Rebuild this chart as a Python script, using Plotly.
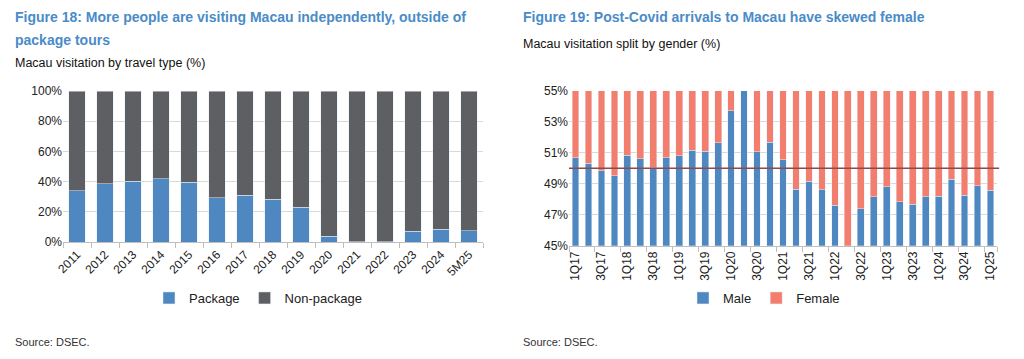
import plotly.graph_objects as go

# ---------------- Data ----------------
years = ["2011", "2012", "2013", "2014", "2015", "2016", "2017", "2018",
         "2019", "2020", "2021", "2022", "2023", "2024", "5M25"]
package = [33.8, 38.7, 40.2, 42.0, 39.6, 29.3, 31.1, 28.2, 22.9, 3.8,
           0.3, 0.2, 7.1, 8.4, 7.6]
non_package = [round(100 - p, 1) for p in package]

quarters = ["1Q17", "2Q17", "3Q17", "4Q17", "1Q18", "2Q18", "3Q18", "4Q18",
            "1Q19", "2Q19", "3Q19", "4Q19", "1Q20", "2Q20", "3Q20", "4Q20",
            "1Q21", "2Q21", "3Q21", "4Q21", "1Q22", "2Q22", "3Q22", "4Q22",
            "1Q23", "2Q23", "3Q23", "4Q23", "1Q24", "2Q24", "3Q24", "4Q24",
            "1Q25"]
male = [50.67, 50.34, 49.83, 49.53, 50.86, 50.62, 50.04, 50.69,
        50.82, 51.16, 51.12, 51.66, 53.73, 56.0, 51.08, 51.68,
        50.56, 48.66, 49.18, 48.62, 47.63, 44.8, 47.39, 48.15,
        48.81, 47.84, 47.67, 48.15, 48.21, 49.31, 48.25, 48.86,
        48.58]
female = [round(100 - m, 2) for m in male]
quarter_ticks = quarters[::2]

left_ticks = [0, 20, 40, 60, 80, 100]
right_ticks = [45, 47, 49, 51, 53, 55]

# ---------------- Style ----------------
W, H = 1024, 359
BLUE = "#4F88C0"
GREY = "#5E5F63"
SALMON = "#F47E6D"
TITLE = "#4A8BC8"
GRID = "#D9D9D9"
FONT = "Liberation Sans, Arial, sans-serif"


def px(x):
    return x / W


def py(y):
    return 1 - y / H


fig = go.Figure()

fig.add_trace(go.Bar(x=years, y=package, name="Package", marker_color=BLUE,
                     width=0.6, xaxis="x", yaxis="y", legend="legend"))
fig.add_trace(go.Bar(x=years, y=non_package, name="Non-package", marker_color=GREY,
                     width=0.6, xaxis="x", yaxis="y", legend="legend"))
fig.add_trace(go.Bar(x=quarters, y=male, name="Male", marker_color=BLUE,
                     width=0.52, xaxis="x2", yaxis="y2", legend="legend2"))
fig.add_trace(go.Bar(x=quarters, y=female, name="Female", marker_color=SALMON,
                     width=0.52, xaxis="x2", yaxis="y2", legend="legend2"))

axis_font = dict(family=FONT, size=12, color="#222222")
legend_font = dict(family=FONT, size=13, color="#222222")

fig.update_layout(
    width=W, height=H,
    margin=dict(l=0, r=0, t=0, b=0, pad=0, autoexpand=False),
    paper_bgcolor="white", plot_bgcolor="white",
    barmode="stack",
    font=dict(family=FONT, size=12, color="#222222"),
    xaxis=dict(domain=[px(63), px(483)], anchor="y", type="category",
               tickangle=-45, tickfont=axis_font, showgrid=False,
               showline=True, linecolor="#BFBFBF", linewidth=1,
               ticks="outside", tickson="boundaries", ticklen=5,
               tickcolor="#BFBFBF", automargin=False),
    yaxis=dict(domain=[py(242), py(91)], anchor="x", range=[0, 100],
               tickvals=left_ticks, ticktext=[f"{t}%" for t in left_ticks],
               tickfont=axis_font, showgrid=True, gridcolor=GRID,
               gridwidth=1, zeroline=False, showline=False, ticks="",
               automargin=False),
    xaxis2=dict(domain=[px(569), px(997)], anchor="y2", type="category",
                tickangle=-90, tickfont=axis_font, showgrid=False,
                tickmode="array", tickvals=quarter_ticks, ticktext=quarter_ticks,
                showline=True, linecolor="#BFBFBF", linewidth=1,
                ticks="outside", tickson="boundaries", ticklen=5,
                tickcolor="#BFBFBF", automargin=False),
    yaxis2=dict(domain=[py(245.7), py(91)], anchor="x2", range=[45, 55],
                tickvals=right_ticks, ticktext=[f"{t}%" for t in right_ticks],
                tickfont=axis_font, showgrid=True, gridcolor=GRID,
                gridwidth=1, zeroline=False, showline=False, ticks="",
                automargin=False),
    legend=dict(orientation="h", x=px(258), xanchor="center", y=py(298),
                yanchor="middle", font=legend_font, traceorder="normal",
                itemwidth=30, bgcolor="rgba(0,0,0,0)"),
    legend2=dict(orientation="h", x=px(764), xanchor="center", y=py(298),
                 yanchor="middle", font=legend_font, traceorder="normal",
                 itemwidth=30, bgcolor="rgba(0,0,0,0)"),
    showlegend=True,
)

# 50% reference line on the gender chart
fig.add_shape(type="line", xref="x2 domain", yref="y2", x0=0, x1=1.005, y0=50, y1=50,
              line=dict(color="#8E4A4A", width=1.5))

annotations = [
    dict(text="<b>Figure 18: More people are visiting Macau independently, outside of</b>",
         x=px(13), y=py(17), font=dict(family=FONT, size=14, color=TITLE)),
    dict(text="<b>package tours</b>",
         x=px(13), y=py(40), font=dict(family=FONT, size=14, color=TITLE)),
    dict(text="Macau visitation by travel type (%)",
         x=px(13), y=py(63), font=dict(family=FONT, size=12.5, color="#111111")),
    dict(text="<b>Figure 19: Post-Covid arrivals to Macau have skewed female</b>",
         x=px(521), y=py(17), font=dict(family=FONT, size=14, color=TITLE)),
    dict(text="Macau visitation split by gender (%)",
         x=px(521), y=py(44), font=dict(family=FONT, size=12.5, color="#111111")),
    dict(text="Source: DSEC.", x=px(13), y=py(342),
         font=dict(family=FONT, size=11, color="#333333")),
    dict(text="Source: DSEC.", x=px(521), y=py(342),
         font=dict(family=FONT, size=11, color="#333333")),
]
for a in annotations:
    fig.add_annotation(xref="paper", yref="paper", xanchor="left", yanchor="middle",
                       showarrow=False, **a)

fig.write_html("out.html",
               config={"displayModeBar": False},
               post_script="document.body.style.margin='0';document.body.style.overflow='hidden';")
